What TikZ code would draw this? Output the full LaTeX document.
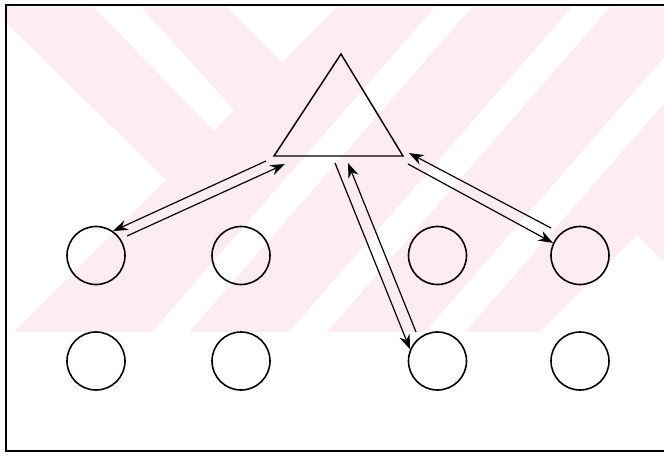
\documentclass[tikz,border=0pt]{standalone}
\usepackage{amsmath,amssymb,amsfonts}
\usetikzlibrary{arrows.meta}

\begin{document}
\begin{tikzpicture}[x=0.75pt,y=0.75pt,yscale=-1,xscale=1,
  unit/.style={draw, circle, line width=1.2pt, minimum size=43.5pt, inner sep=0pt},
  link/.style={line width=0.9pt, -{Stealth[length=11pt,width=8pt]}},
  wm/.style={fill={rgb, 255:red, 253; green, 236; blue, 240}}]
\useasboundingbox (0,0) rectangle (664,457);

%Shape: Watermark [pink bands]
\begin{scope}
\clip (7,7) rectangle (664,332);
\fill [wm] (7,7) rectangle (664,332);
\fill [white] (0,17) -- (166,180) -- (0,346) -- cycle ;
\fill [white] (94,7) -- (141,7) -- (234,110) -- (214,131) -- cycle ;
\fill [white] (222,2) -- (282,62) -- (342,2) -- cycle ;
\fill [white] (435,7) -- (472,7) -- (189,332) -- (152,332) -- cycle ;
\fill [white] (572,7) -- (610,7) -- (327,332) -- (289,332) -- cycle ;
\fill [white] (708,7) -- (748,7) -- (465,332) -- (425,332) -- cycle ;
\fill [white] (540,332) -- (637,235) -- (734,332) -- cycle ;
\end{scope}

%Shape: Frame
\draw [line width=1.2pt] (670,5) -- (6,5) -- (6,451) -- (670,451) ;

%Shape: Triangle
\coordinate (apex) at (341,54);
\coordinate (baseL) at (274,156);
\coordinate (baseR) at (403,156);
\draw [line width=1.1pt] (apex) -- (baseR) -- (baseL) -- cycle ;

%Shape: Circle [upper row]
\node [unit] (u11) at (96,255.5) {};
\node [unit] (u12) at (241,255.5) {};
\node [unit] (u13) at (437.5,255.5) {};
\node [unit] (u14) at (580,255.5) {};
%Shape: Circle [lower row]
\node [unit] (u21) at (96,361) {};
\node [unit] (u22) at (241,361) {};
\node [unit] (u23) at (437.5,361) {};
\node [unit] (u24) at (580,361) {};

%Arrow ends
\coordinate (lOut) at (266,161);
\coordinate (lInS) at (127,236);
\coordinate (lInE) at (285,164);
\coordinate (mOut) at (335,163);
\coordinate (mInS) at (416,332);
\coordinate (mInE) at (348,163);
\coordinate (rInS) at (551,228);
\coordinate (rInE) at (409,153);
\coordinate (rOut) at (408,164);

%Straight Lines [left pair]
\draw [link] (lOut) -- (u11.55) ;
\draw [link] (lInS) -- (lInE) ;
%Straight Lines [middle pair]
\draw [link] (mOut) -- (u23.157) ;
\draw [link] (mInS) -- (mInE) ;
%Straight Lines [right pair]
\draw [link] (rInS) -- (rInE) ;
\draw [link] (rOut) -- (u14.155) ;

\end{tikzpicture}
\end{document}
